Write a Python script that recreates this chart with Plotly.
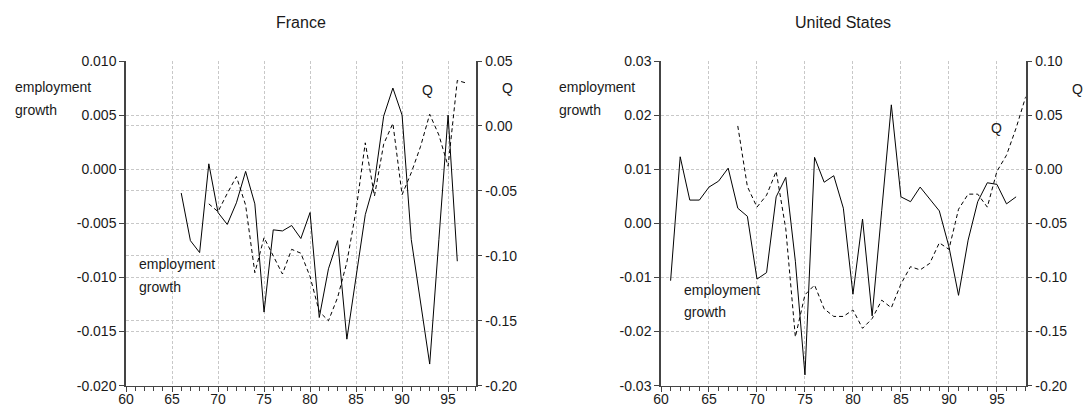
import plotly.graph_objects as go

# ---------------- data ----------------
fr_emp_years = list(range(66, 97))
fr_emp = [-0.0022, -0.0066, -0.0077, 0.0005, -0.0040, -0.0051, -0.0031, -0.0002,
          -0.0032, -0.0132, -0.0056, -0.0057, -0.0052, -0.0064, -0.0040, -0.0137,
          -0.0092, -0.0066, -0.0157, -0.0099, -0.0042, -0.0012, 0.0049, 0.0075,
          0.0050, -0.0065, -0.0123, -0.0180, -0.0065, 0.0050, -0.0085]

fr_q_years = list(range(69, 98))
fr_q = [-0.060, -0.066, -0.052, -0.039, -0.061, -0.113, -0.086, -0.100, -0.114,
        -0.095, -0.098, -0.116, -0.143, -0.150, -0.132, -0.105, -0.065, -0.013,
        -0.054, -0.014, 0.002, -0.053, -0.036, -0.016, 0.009, -0.007, -0.031,
        0.035, 0.033]

us_emp_years = list(range(61, 98))
us_emp = [-0.0106, 0.0123, 0.0043, 0.0043, 0.0067, 0.0078, 0.0102, 0.0028, 0.0013,
          -0.0103, -0.0091, 0.0049, 0.0085, -0.0070, -0.0280, 0.0122, 0.0076, 0.0088,
          0.0028, -0.0131, 0.0008, -0.0171, 0.0024, 0.0219, 0.0049, 0.0040, 0.0067,
          0.0046, 0.0023, -0.0043, -0.0133, -0.0031, 0.0040, 0.0075, 0.0072, 0.0036,
          0.0049]

us_q_years = list(range(68, 99))
us_q = [0.040, -0.016, -0.035, -0.024, -0.002, -0.055, -0.155, -0.116, -0.107,
        -0.129, -0.136, -0.136, -0.130, -0.147, -0.138, -0.121, -0.128, -0.106,
        -0.090, -0.093, -0.087, -0.068, -0.074, -0.037, -0.023, -0.023, -0.035,
        -0.002, 0.013, 0.038, 0.067]

x_ticks = [60, 65, 70, 75, 80, 85, 90, 95]

fr_left_ticks = [-0.020, -0.015, -0.010, -0.005, 0.000, 0.005, 0.010]
fr_left_labels = ["-0.020", "-0.015", "-0.010", "-0.005", "0.000", "0.005", "0.010"]
fr_right_ticks = [-0.20, -0.15, -0.10, -0.05, 0.00, 0.05]
fr_right_labels = ["-0.20", "-0.15", "-0.10", "-0.05", "0.00", "0.05"]
us_left_ticks = [-0.03, -0.02, -0.01, 0.00, 0.01, 0.02, 0.03]
us_left_labels = ["-0.03", "-0.02", "-0.01", "0.00", "0.01", "0.02", "0.03"]
us_right_ticks = [-0.20, -0.15, -0.10, -0.05, 0.00, 0.05, 0.10]
us_right_labels = ["-0.20", "-0.15", "-0.10", "-0.05", "0.00", "0.05", "0.10"]

# ---------------- style ----------------
W, H = 1085, 412
FONT = "Liberation Sans, Arial, sans-serif"
TXT = "#1a1a1a"
AXC = "#444444"
GRID = "#c8c8c8"

fr_dom = [126 / W, 475.7 / W]
us_dom = [661 / W, 1025.7 / W]
ydom = [1 - 385.7 / H, 1 - 61 / H]

fig = go.Figure()
solid = dict(color="black", width=1)
dashed = dict(color="black", width=1, dash="4px,3px")
fig.add_trace(go.Scatter(x=fr_emp_years, y=fr_emp, mode="lines", line=solid,
                         xaxis="x", yaxis="y", showlegend=False))
fig.add_trace(go.Scatter(x=fr_q_years, y=fr_q, mode="lines", line=dashed,
                         xaxis="x", yaxis="y2", showlegend=False))
fig.add_trace(go.Scatter(x=us_emp_years, y=us_emp, mode="lines", line=solid,
                         xaxis="x2", yaxis="y3", showlegend=False))
fig.add_trace(go.Scatter(x=us_q_years, y=us_q, mode="lines", line=dashed,
                         xaxis="x2", yaxis="y4", showlegend=False))

tickfont = dict(family=FONT, size=14, color=TXT)


def xax(dom, anchor):
    return dict(domain=dom, anchor=anchor, range=[60, 98], tickvals=x_ticks,
                ticktext=[str(v) for v in x_ticks], ticks="outside", ticklen=5,
                tickcolor=AXC, tickfont=tickfont, ticklabelstandoff=-5,
                minor=dict(dtick=1, tick0=60, ticks="outside", ticklen=4,
                           tickcolor=AXC, showgrid=False),
                showgrid=True, gridcolor=GRID, griddash="3px,2px", gridwidth=1,
                showline=True, linecolor=AXC, linewidth=1, zeroline=False,
                automargin=False, fixedrange=True)


def yax(rng, tv, tt, side, anchor, overlay=None, grid=True):
    d = dict(domain=ydom, anchor=anchor, range=rng, tickvals=tv, ticktext=tt,
             side=side, ticks="outside", ticklen=5, tickcolor=AXC, tickfont=tickfont,
             showgrid=grid, gridcolor=GRID, griddash="3px,2px", gridwidth=1,
             showline=True, linecolor=AXC, linewidth=1.5, zeroline=False,
             automargin=False, fixedrange=True)
    if overlay:
        d["overlaying"] = overlay
    return d


fig.update_layout(
    template="none",
    width=W, height=H, autosize=False,
    margin=dict(l=0, r=0, t=0, b=0, pad=0),
    paper_bgcolor="white", plot_bgcolor="white",
    xaxis=xax(fr_dom, "y"),
    xaxis2=xax(us_dom, "y3"),
    yaxis=yax([-0.020, 0.010], fr_left_ticks, fr_left_labels, "left", "x"),
    yaxis2=yax([-0.20, 0.05], fr_right_ticks, fr_right_labels, "right", "x", "y"),
    yaxis3=yax([-0.03, 0.03], us_left_ticks, us_left_labels, "left", "x2"),
    yaxis4=yax([-0.20, 0.10], us_right_ticks, us_right_labels, "right", "x2", "y3",
               grid=False),
)


def note(text, xpx, ypx, xanchor="left", size=14):
    fig.add_annotation(text=text, xref="paper", yref="paper", x=xpx / W,
                       y=1 - ypx / H, xanchor=xanchor, yanchor="middle",
                       showarrow=False,
                       font=dict(family=FONT, size=size, color=TXT))


# titles
note("France", 300.9, 23, "center", 16)
note("United States", 843.4, 23, "center", 16)

# France labels
note("employment", 13, 87)
note("growth", 13, 110)
note("employment", 137, 264)
note("growth", 137, 287)
note("Q", 427, 90, "center")
note("Q", 500, 88)

# US labels
note("employment", 557, 87)
note("growth", 557, 110)
note("employment", 682, 290)
note("growth", 682, 312)
note("Q", 996, 128, "center")
note("Q", 1085, 89, "right")

fig.write_html("out.html", config={"responsive": False, "displayModeBar": False},
               post_script="document.body.style.margin='0';"
                           "document.body.style.overflow='hidden';")
